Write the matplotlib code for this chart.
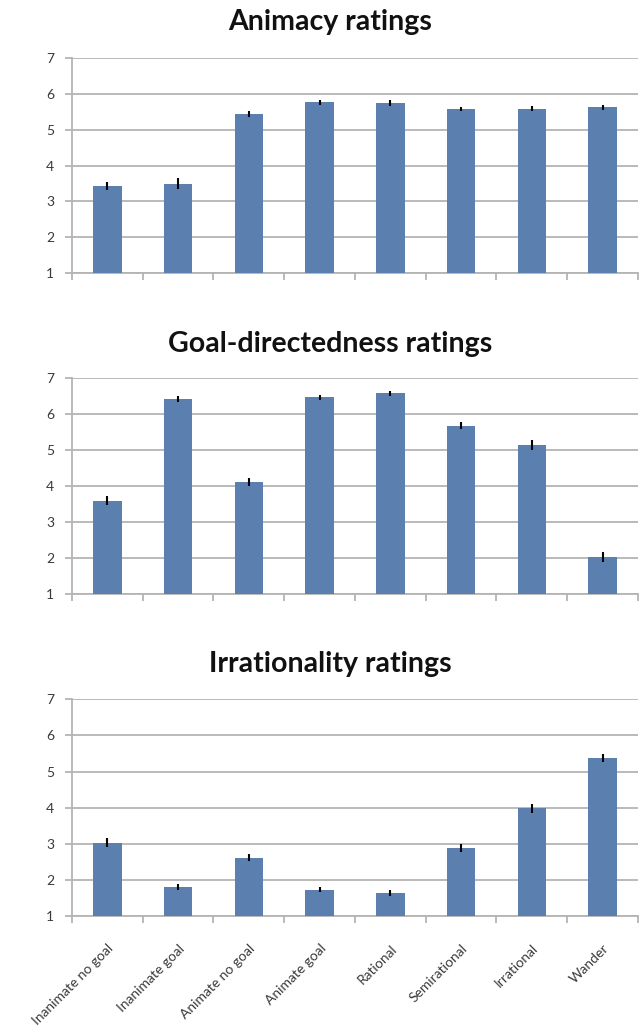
import numpy as np
import matplotlib
matplotlib.use('Agg')
import matplotlib.pyplot as plt

plt.rcParams['font.family'] = ['Lato', 'DejaVu Sans']

# conditions shown on every panel
conditions = ['Inanimate no goal', 'Inanimate goal', 'Animate no goal', 'Animate goal',
              'Rational', 'Semirational', 'Irrational', 'Wander']

# mean ratings and standard errors
animacy = [3.43, 3.49, 5.44, 5.76, 5.74, 5.58, 5.58, 5.63]
animacy_err = [0.12, 0.15, 0.08, 0.07, 0.08, 0.06, 0.07, 0.07]

goal = [3.60, 6.42, 4.12, 6.47, 6.58, 5.68, 5.15, 2.03]
goal_err = [0.13, 0.09, 0.11, 0.08, 0.07, 0.10, 0.13, 0.13]

irrational = [3.03, 1.80, 2.62, 1.73, 1.63, 2.89, 3.98, 5.37]
irrational_err = [0.12, 0.08, 0.11, 0.07, 0.08, 0.11, 0.13, 0.11]

titles = ['Animacy ratings', 'Goal-directedness ratings', 'Irrationality ratings']
yticks = [1, 2, 3, 4, 5, 6, 7]

bar_color = '#5b80b0'
grid_color = '#b4b4b4'
text_color = '#3a3a3a'

fig = plt.figure(figsize=(6.41, 10.36), dpi=100)

# axes boxes [left, bottom, width, height] and title heights
boxes = [[0.1123, 0.7365, 0.8830, 0.2075],
         [0.1123, 0.4266, 0.8830, 0.2082],
         [0.1123, 0.1158, 0.8830, 0.2092]]
title_y = [0.979, 0.668, 0.359]

data = [(animacy, animacy_err), (goal, goal_err), (irrational, irrational_err)]
x = np.arange(len(conditions))

for i, ((vals, errs), box) in enumerate(zip(data, boxes)):
    ax = fig.add_axes(box)
    ax.bar(x, np.array(vals) - 1, bottom=1, width=0.4, color=bar_color, zorder=3)
    ax.errorbar(x, vals, yerr=errs, fmt='none', ecolor='black', elinewidth=1.5,
                capsize=0, zorder=4)
    ax.set_xlim(-0.5, len(conditions) - 0.5)
    ax.set_ylim(1, 7)
    ax.set_yticks(yticks)
    ax.yaxis.grid(True, color=grid_color, linewidth=1.3, zorder=0)
    ax.set_axisbelow(True)
    for side in ['top', 'right']:
        ax.spines[side].set_visible(False)
    for side in ['left', 'bottom']:
        ax.spines[side].set_color(grid_color)
        ax.spines[side].set_linewidth(1.3)
    ax.tick_params(axis='y', colors=grid_color, labelcolor=text_color,
                   length=5, width=1.3, labelsize=10, pad=8)

    # tick marks between categories, labels under bars
    ax.set_xticks(np.arange(-0.5, len(conditions)), minor=True)
    ax.set_xticks(x)
    ax.tick_params(axis='x', which='minor', length=5, width=1.3, colors=grid_color)
    ax.tick_params(axis='x', which='major', length=0)
    if i == 2:
        ax.set_xticklabels(conditions, rotation=45, ha='right', rotation_mode='anchor',
                           fontsize=10, color=text_color)
        ax.tick_params(axis='x', which='major', pad=19)
    else:
        ax.set_xticklabels([])

    fig.text(0.515, title_y[i], titles[i], ha='center', va='center',
             fontsize=20.5, fontweight='bold', color='#111111')

fig.savefig('out.png', dpi=100)
